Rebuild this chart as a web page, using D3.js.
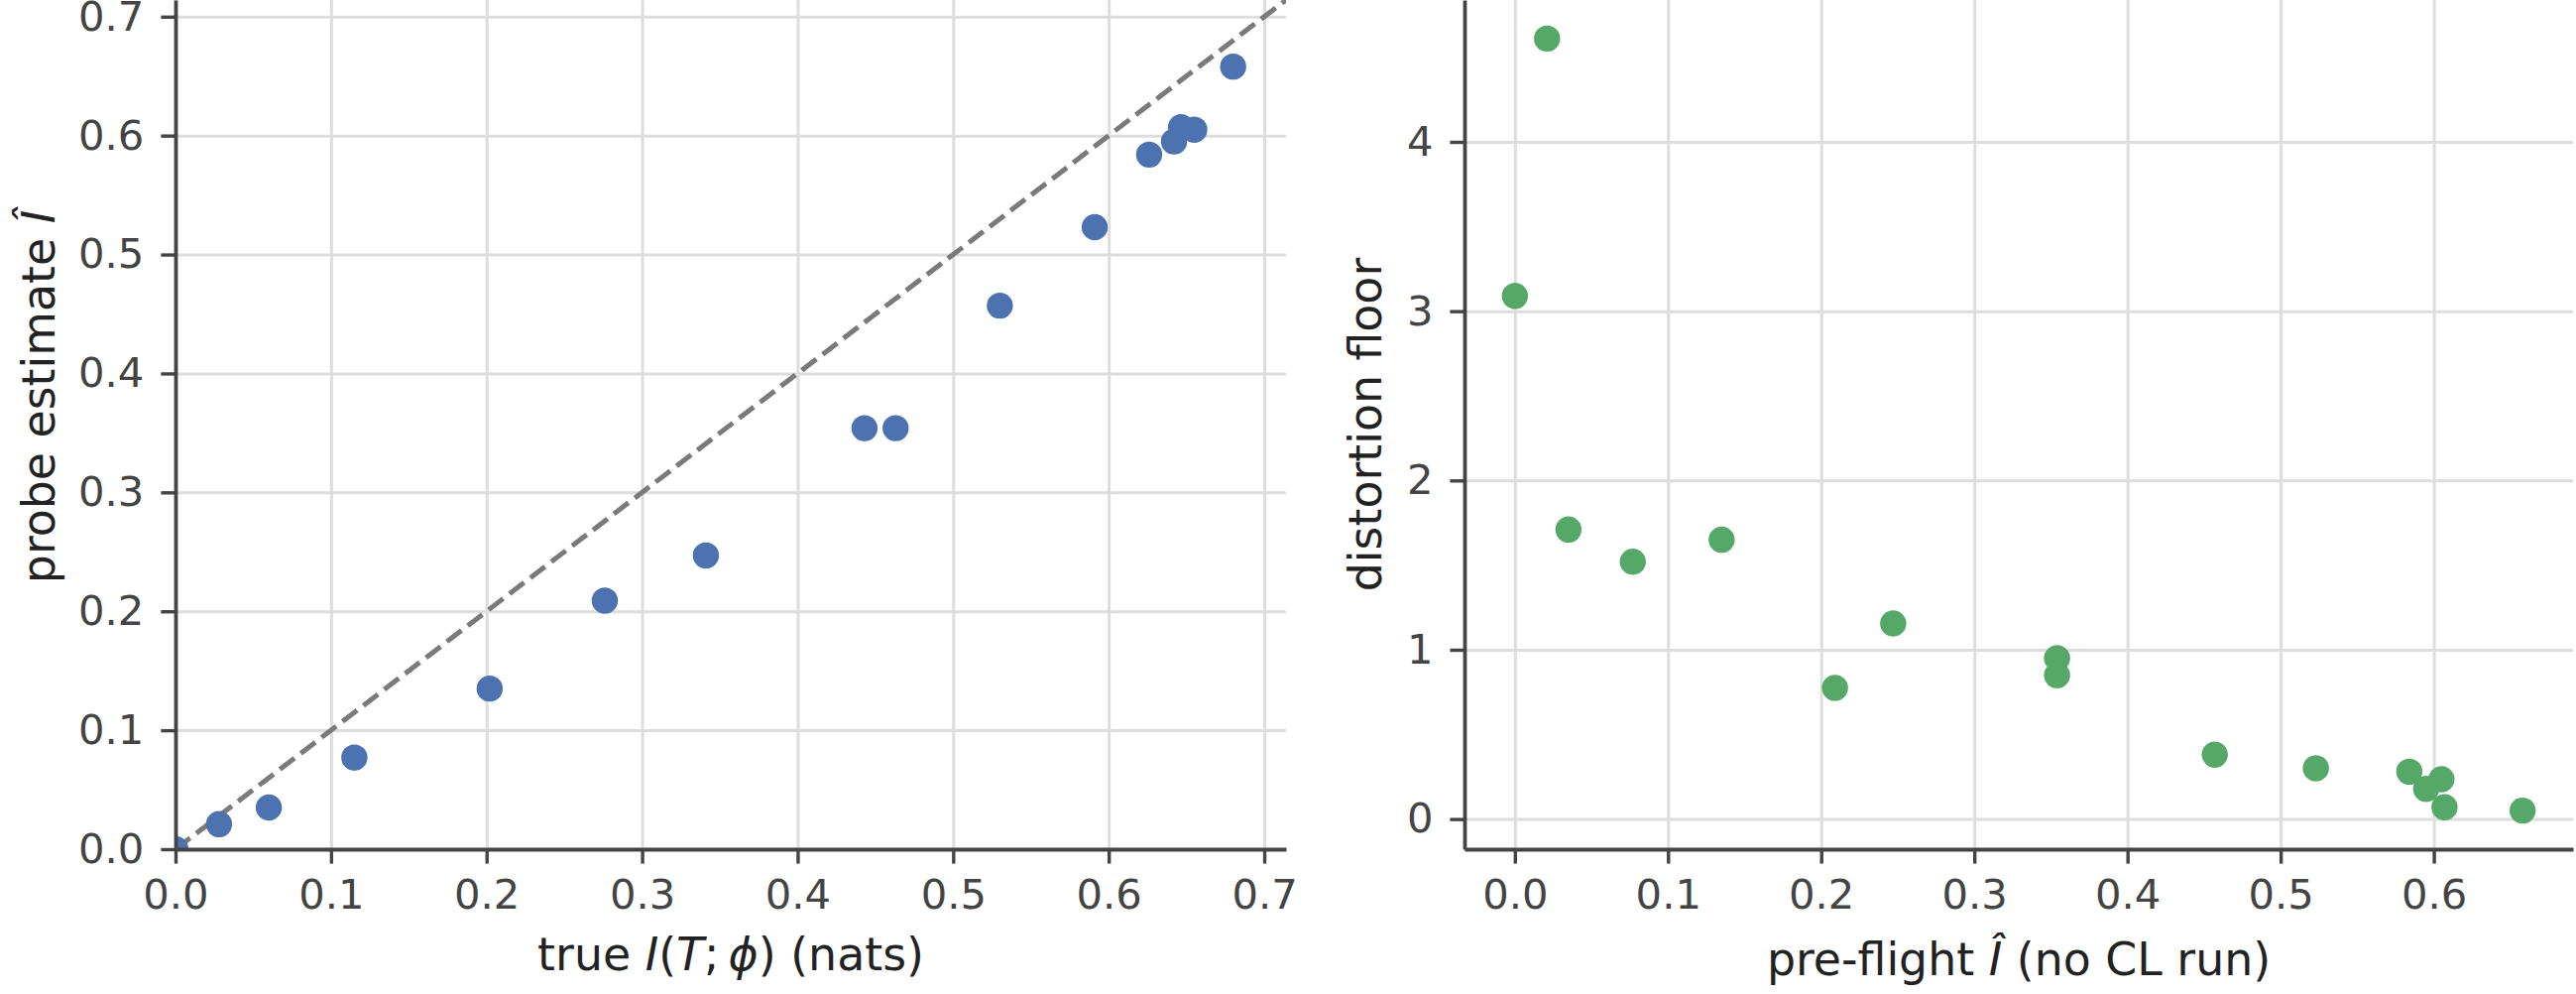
<!DOCTYPE html>
<html>
<head>
<meta charset="utf-8">
<script src="https://cdn.jsdelivr.net/npm/d3@7"></script>
<style>
  body { margin: 0; background: #fff; }
  svg { display: block; }
  text { font-family: "DejaVu Sans", sans-serif; }
</style>
</head>
<body>
<div id="chart"></div>
<script>
"use strict";

/* ── Data ── */
const trueMI     = [0.000, 0.028, 0.060, 0.115, 0.202, 0.276, 0.341, 0.443, 0.463, 0.530, 0.591, 0.626, 0.642, 0.6465, 0.655, 0.680];
const probeEst   = [0.000, 0.021, 0.035, 0.077, 0.135, 0.209, 0.247, 0.354, 0.354, 0.457, 0.523, 0.584, 0.595, 0.607, 0.605, 0.658];
const distortion = [3.09, 4.61, 1.71, 1.52, 1.65, 0.775, 1.155, 0.95, 0.85, 0.38, 0.30, 0.28, 0.178, 0.07, 0.235, 0.05];
const identityLine = [0, 0.72];

const leftTicks   = [0, 0.1, 0.2, 0.3, 0.4, 0.5, 0.6, 0.7];
const rightXTicks = [0, 0.1, 0.2, 0.3, 0.4, 0.5, 0.6];
const rightYTicks = [0, 1, 2, 3, 4];

/* ── Style ── */
const BLUE  = "#4c72b0";
const GREEN = "#55a868";
const AXIS  = "#444444";
const GRID  = "#dddddd";
const TICK_FS  = 41.7;
const LABEL_FS = 45.8;
const TICK_LEN = 14.6;
const R = 13.2;

const W = 2598, H = 1002;

const svg = d3.select("#chart").append("svg")
  .attr("width", W).attr("height", H)
  .attr("viewBox", `0 0 ${W} ${H}`);

/* ── Panel geometry ── */
const left  = { x0: 177, x1: 1297, top: 0, bottom: 856 };
const right = { x0: 1477, x1: 2595, top: 0, bottom: 856 };

/* ── Scales ── */
const lim = d3.max(trueMI.concat(probeEst)) * 1.05;
const xL = d3.scaleLinear().domain([0, lim]).range([left.x0, left.x1]);
const yL = d3.scaleLinear().domain([0, lim]).range([left.bottom, left.top]);

function padded(arr) {
  const [a, b] = d3.extent(arr);
  const p = (b - a) * 0.05;
  return [a - p, b + p];
}
const xR = d3.scaleLinear().domain(padded(probeEst)).range([right.x0, right.x1]);
const yR = d3.scaleLinear().domain(padded(distortion)).range([right.bottom, right.top]);

/* ── Helpers ── */
function grid(g, panel, x, y, xt, yt) {
  g.append("g")
    .attr("transform", `translate(0,${panel.bottom})`)
    .call(d3.axisBottom(x).tickValues(xt).tickSize(-(panel.bottom - panel.top)).tickFormat(""))
    .call(s => {
      s.select(".domain").remove();
      s.selectAll("line").attr("stroke", GRID).attr("stroke-width", 3);
    });
  g.append("g")
    .attr("transform", `translate(${panel.x0},0)`)
    .call(d3.axisLeft(y).tickValues(yt).tickSize(-(panel.x1 - panel.x0)).tickFormat(""))
    .call(s => {
      s.select(".domain").remove();
      s.selectAll("line").attr("stroke", GRID).attr("stroke-width", 3);
    });
}

function axes(g, panel, x, y, xt, yt, xfmt, yfmt) {
  g.append("g")
    .attr("transform", `translate(0,${panel.bottom})`)
    .call(d3.axisBottom(x).tickValues(xt).tickFormat(xfmt)
      .tickSize(TICK_LEN).tickSizeOuter(0).tickPadding(16))
    .call(s => {
      s.select(".domain").attr("stroke", AXIS).attr("stroke-width", 3.8);
      s.selectAll(".tick line").attr("stroke", AXIS).attr("stroke-width", 3.4);
      s.selectAll(".tick text").attr("fill", AXIS).attr("font-size", TICK_FS)
        .attr("font-family", "DejaVu Sans");
    });
  g.append("g")
    .attr("transform", `translate(${panel.x0},0)`)
    .call(d3.axisLeft(y).tickValues(yt).tickFormat(yfmt)
      .tickSize(TICK_LEN).tickSizeOuter(0).tickPadding(17))
    .call(s => {
      s.select(".domain").attr("stroke", AXIS).attr("stroke-width", 3.8);
      s.selectAll(".tick line").attr("stroke", AXIS).attr("stroke-width", 3.4);
      s.selectAll(".tick text").attr("fill", AXIS).attr("font-size", TICK_FS)
        .attr("font-family", "DejaVu Sans");
    });
}

function clip(id, panel) {
  svg.append("clipPath").attr("id", id)
    .append("rect")
    .attr("x", panel.x0).attr("y", panel.top)
    .attr("width", panel.x1 - panel.x0).attr("height", panel.bottom - panel.top);
}

/* ── Left panel: probe estimate vs true MI ── */
const gL = svg.append("g");
clip("clip-left", left);
grid(gL, left, xL, yL, leftTicks, leftTicks);

const plotL = gL.append("g").attr("clip-path", "url(#clip-left)");

plotL.append("path")
  .datum(identityLine)
  .attr("d", d3.line().x(d => xL(d)).y(d => yL(d)))
  .attr("fill", "none")
  .attr("stroke", "#7a7a7a")
  .attr("stroke-width", 5)
  .attr("stroke-dasharray", "18.5,8");

plotL.selectAll("circle")
  .data(trueMI.map((v, i) => [v, probeEst[i]]))
  .join("circle")
  .attr("cx", d => xL(d[0]))
  .attr("cy", d => yL(d[1]))
  .attr("r", R)
  .attr("fill", BLUE);

axes(gL, left, xL, yL, leftTicks, leftTicks, d3.format(".1f"), d3.format(".1f"));

/* x label: true I(T;ϕ) (nats) */
const xlabL = gL.append("text")
  .attr("x", (left.x0 + left.x1) / 2).attr("y", 978)
  .attr("text-anchor", "middle")
  .attr("font-size", LABEL_FS).attr("fill", "#222");
xlabL.append("tspan").text("true ");
xlabL.append("tspan").attr("font-style", "italic").text("I");
xlabL.append("tspan").text("(");
xlabL.append("tspan").attr("font-style", "italic").text("T");
xlabL.append("tspan").text(";\u2009");
xlabL.append("tspan").attr("font-style", "italic").text("\u03D5");
xlabL.append("tspan").text(") (nats)");

/* y label: probe estimate Î */
const ylabL = gL.append("text")
  .attr("transform", `translate(55,400) rotate(-90)`)
  .attr("text-anchor", "middle")
  .attr("font-size", LABEL_FS).attr("fill", "#222");
ylabL.append("tspan").text("probe estimate ");
ylabL.append("tspan").attr("font-style", "italic").text("I\u0302");

/* ── Right panel: distortion floor vs pre-flight Î ── */
const gR = svg.append("g");
clip("clip-right", right);
grid(gR, right, xR, yR, rightXTicks, rightYTicks);

const plotR = gR.append("g").attr("clip-path", "url(#clip-right)");

plotR.selectAll("circle")
  .data(probeEst.map((v, i) => [v, distortion[i]]))
  .join("circle")
  .attr("cx", d => xR(d[0]))
  .attr("cy", d => yR(d[1]))
  .attr("r", R)
  .attr("fill", GREEN);

axes(gR, right, xR, yR, rightXTicks, rightYTicks, d3.format(".1f"), d3.format("d"));

const xlabR = gR.append("text")
  .attr("x", (right.x0 + right.x1) / 2).attr("y", 983)
  .attr("text-anchor", "middle")
  .attr("font-size", LABEL_FS).attr("fill", "#222");
xlabR.append("tspan").text("pre-flight ");
xlabR.append("tspan").attr("font-style", "italic").text("I\u0302");
xlabR.append("tspan").text(" (no CL run)");

gR.append("text")
  .attr("transform", `translate(1393,${(right.top + right.bottom) / 2}) rotate(-90)`)
  .attr("text-anchor", "middle")
  .attr("font-size", LABEL_FS).attr("fill", "#222")
  .text("distortion floor");
</script>
</body>
</html>
